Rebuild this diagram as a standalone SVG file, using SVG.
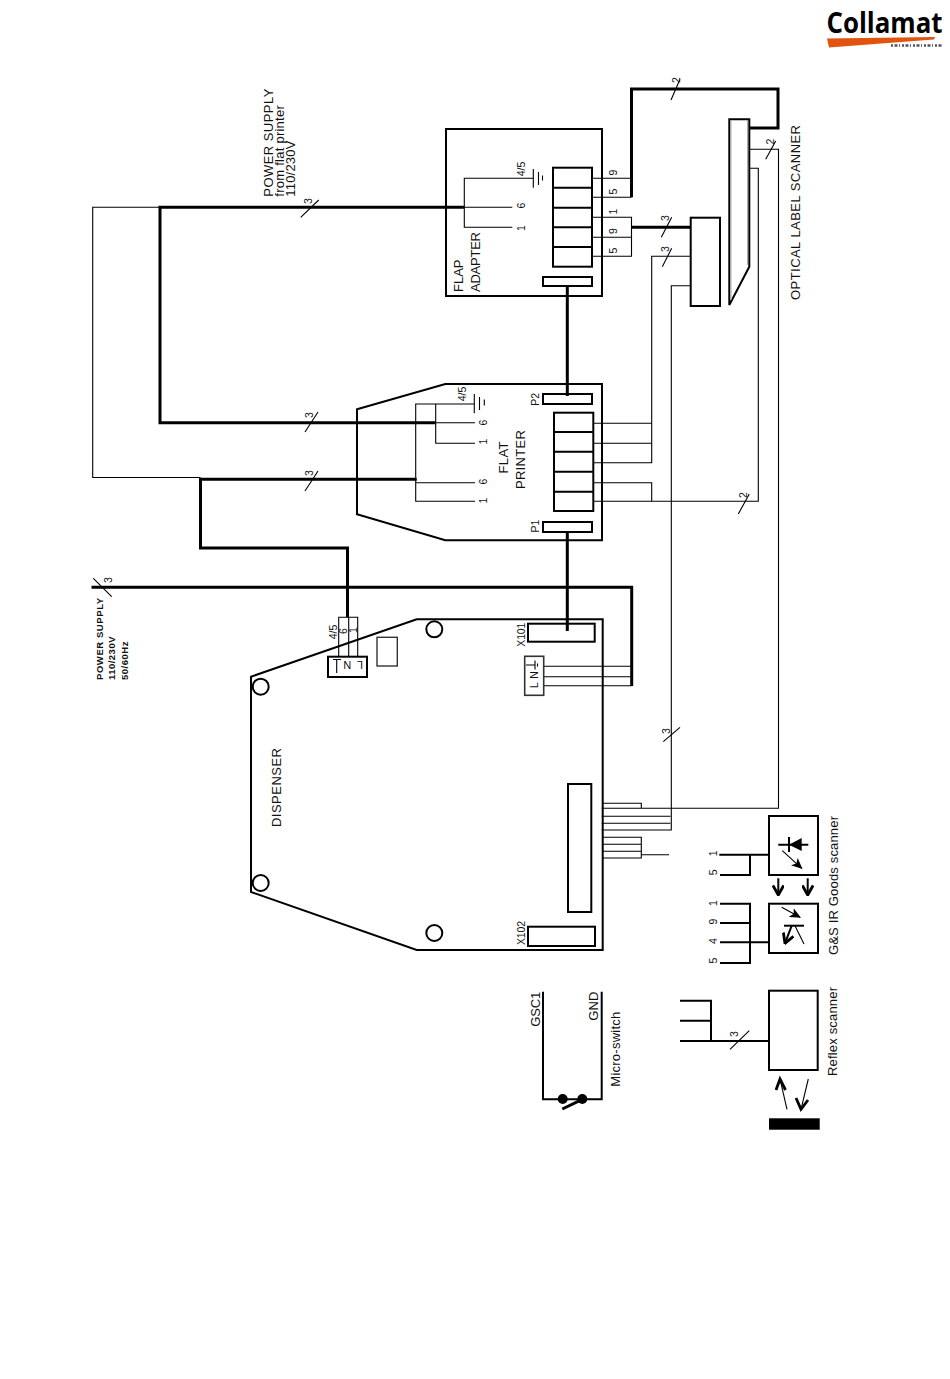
<svg xmlns="http://www.w3.org/2000/svg" width="950" height="1379" viewBox="0 0 950 1379">
<style>
text{font-family:"Liberation Sans",Arial,sans-serif;fill:#111}
.box{fill:none;stroke:#000;stroke-width:2}
.thin{fill:none;stroke:#000;stroke-width:1.1}
.thick{fill:none;stroke:#000;stroke-width:3}
.med{fill:none;stroke:#000;stroke-width:2}
.lbl{font-size:13px}
.num{font-size:10.5px;text-anchor:middle}
.bold{font-size:9.5px;font-weight:bold}
</style>
<defs>
<marker id="open" viewBox="0 0 10 10" refX="9" refY="5" markerWidth="12" markerHeight="12" markerUnits="userSpaceOnUse" orient="auto"><path d="M1 0.5L9 5L1 9.5" fill="none" stroke="#000" stroke-width="2.4"/></marker>
<marker id="solid" viewBox="0 0 10 10" refX="9" refY="5" markerWidth="11" markerHeight="11" markerUnits="userSpaceOnUse" orient="auto"><path d="M0 0.5L10 5L0 9.5L2.5 5Z" fill="#000"/></marker>
</defs>
<rect width="950" height="1379" fill="#fff"/>

<g id="logo">
<polygon points="827,38.5 935,37 934,39.5 829,47.5" fill="#e0540f"/>
<text x="826.5" y="32.5" font-size="28" font-weight="bold" style="font-family:'Open Sans','Liberation Sans',sans-serif;fill:#000" textLength="116" lengthAdjust="spacingAndGlyphs">Collamat</text>
<line x1="891" y1="45.5" x2="943" y2="45.5" stroke="#555" stroke-width="2.5" stroke-dasharray="2 1.5 3 1.5 1 2"/>
</g>

<g id="connectors">
<path class="thick" d="M631.5 197.3V89H778V128H749.3"/>
<path class="thick" d="M631.5 227.3H690.7"/>
<path class="thick" d="M567.3 286V396"/>
<path class="thick" d="M567.3 532V631"/>
<path class="thick" d="M464.3 207.3H160V422.7H435.7"/>
<path class="thick" d="M416.7 479.3H200.5V548H347.5V617.3"/>
<path class="thick" d="M91.5 587.3H631.7V686"/>
<path class="thin" d="M160 207.3H92.7V477.5H200.5"/>
<path class="thin" d="M592 178.3H631.5M592 197.3H631.5"/>
<path class="thin" d="M592 217.3H631.5V256.3H592M592 237.3H631.5"/>
<path class="thin" d="M749.3 149.3H778.5V808.3H601.7"/>
<path class="thin" d="M749.3 168.3H758.3V501.3H593"/>
<path class="thin" d="M690.7 256.3H651.7V462.7H593M593 423.3H651.7M593 443.3H651.7"/>
<path class="thin" d="M593 482.7H651.7V501.3"/>
<path class="thin" d="M690.7 285.7H671.3V830H601.7"/>
<path class="thin" d="M601.7 816.3H670.5M601.7 823.3H670.5"/>
<path class="thin" d="M602 803.3H641.3V808.3"/>
<path class="thin" d="M602 837.3H641.3V858H602M602 844.3H641.3M602 851.3H641.3M641.3 854.7H669"/>
<path class="thin" d="M543.7 666.3H631.7M543.7 676.7H631.7M543.7 685.7H631.7"/>
<path class="thin" d="M338.7 656.7V617.3H357.7V656.7M348.7 617.3V656.7"/>
<path class="thin" d="M671 100L680 79.3M765.7 159.3L775.7 141M661.3 237.3L671.7 217.3M662.3 266.7L671.7 248.3M738.3 514L749.3 494M300.7 217.3L318.7 200M305 432L318 412M305 491L318 471M93.3 578.3L111.7 596.7M663.3 741.7L680 727.3M730 1049.3L749.3 1030.7"/>
<path class="med" d="M719.3 854.7H769M720 875H750V854.7"/>
<path class="med" d="M720 903.7H750V963H720M720 923H750M720 942.3H769"/>
<path class="med" d="M680 1000.7H711V1041M680 1020.7H711M680 1041H769"/>
<path class="med" d="M778.3 878.3V895" marker-end="url(#open)"/>
<path class="med" d="M807.7 878.3V895" marker-end="url(#open)"/>
<text class="num" transform="translate(679.5,80) rotate(-90)">2</text>
<text class="num" transform="translate(773.5,141.5) rotate(-90)">2</text>
<text class="num" transform="translate(668.5,218) rotate(-90)">3</text>
<text class="num" transform="translate(668.5,249) rotate(-90)">3</text>
<text class="num" transform="translate(746.5,495) rotate(-90)">2</text>
<text class="num" transform="translate(311.5,201) rotate(-90)">3</text>
<text class="num" transform="translate(313,415) rotate(-90)">3</text>
<text class="num" transform="translate(313,473) rotate(-90)">3</text>
<text class="num" transform="translate(112,580) rotate(-90)">3</text>
<text class="num" transform="translate(670,731) rotate(-90)">3</text>
<text class="num" transform="translate(738,1034) rotate(-90)">3</text>
</g>

<g id="flap-adapter">
<rect class="box" x="446" y="129" width="156" height="167"/>
<rect class="box" x="553" y="167.7" width="39" height="99"/>
<path class="box" d="M553 187.7H592M553 207.7H592M553 227.3H592M553 247H592"/>
<rect class="box" x="543" y="277" width="49" height="9"/>
<path class="thin" d="M533.3 178.3H464.3V227.3H512.3M464.3 207.3H512.3"/>
<path class="thin" d="M533.3 169V187.7M538.5 172V185M542.5 175.5V180.5"/>
<text class="lbl" transform="translate(463,292) rotate(-90)">FLAP</text>
<text class="lbl" transform="translate(479.5,292) rotate(-90)" textLength="60">ADAPTER</text>
<text class="num" transform="translate(524.5,169) rotate(-90)">4/5</text>
<text class="num" transform="translate(525,205.7) rotate(-90)">6</text>
<text class="num" transform="translate(525,228) rotate(-90)">1</text>
<text class="num" transform="translate(616.5,172.7) rotate(-90)">9</text>
<text class="num" transform="translate(616.5,191.7) rotate(-90)">5</text>
<text class="num" transform="translate(616.5,211.7) rotate(-90)">1</text>
<text class="num" transform="translate(616.5,231) rotate(-90)">9</text>
<text class="num" transform="translate(616.5,250.7) rotate(-90)">5</text>
</g>

<g id="label-power-flat">
<text class="lbl" transform="translate(272.7,196.7) rotate(-90)" textLength="108">POWER SUPPLY</text>
<text class="lbl" transform="translate(284,196.7) rotate(-90)" textLength="91.5">from flat printer</text>
<text class="lbl" transform="translate(295,196.7) rotate(-90)" textLength="56">110/230V</text>
</g>

<g id="interface-box">
<rect class="box" x="690.7" y="217.7" width="29.3" height="88.3"/>
</g>

<g id="optical-label-scanner">
<polygon points="729.3,119.3 749.3,119.3 749.3,266.7 729.3,305" fill="none" stroke="#000" stroke-width="2"/>
<path d="M731 120V300M747.5 120V265" fill="none" stroke="#aaa" stroke-width="1"/>
<text class="lbl" transform="translate(800,300) rotate(-90)" textLength="175">OPTICAL LABEL SCANNER</text>
</g>

<g id="flat-printer">
<polygon class="box" points="357,409.3 445.3,384 602,384 602,540.3 445.3,540.3 357,514.3"/>
<rect class="box" x="554" y="412.7" width="39.3" height="98.3"/>
<path class="box" d="M554 432H593.3M554 451.7H593.3M554 471.7H593.3M554 491.7H593.3"/>
<rect class="box" x="543" y="394" width="49" height="10"/>
<rect class="box" x="543" y="522" width="49" height="10"/>
<path class="thin" d="M474.3 404H415.7V501.3H475M435.7 404V443.3H475M435.7 422.7H475M416 482.7H475"/>
<path class="thin" d="M474.3 394V413.3M479.5 397V410M484.3 399.5V405.5"/>
<text class="lbl" text-anchor="middle" transform="translate(508,457.5) rotate(-90)" textLength="32">FLAT</text>
<text class="lbl" text-anchor="middle" transform="translate(524.5,459.6) rotate(-90)" textLength="59">PRINTER</text>
<text class="num" transform="translate(466,394) rotate(-90)">4/5</text>
<text class="num" transform="translate(486.7,422.7) rotate(-90)">6</text>
<text class="num" transform="translate(486.7,441.7) rotate(-90)">1</text>
<text class="num" transform="translate(486.7,481.7) rotate(-90)">6</text>
<text class="num" transform="translate(486.7,500.7) rotate(-90)">1</text>
<text class="num" transform="translate(539,399.3) rotate(-90)">P2</text>
<text class="num" transform="translate(539,526) rotate(-90)">P1</text>
</g>

<g id="power-supply">
<text class="bold" transform="translate(102.7,680) rotate(-90)" textLength="82">POWER SUPPLY</text>
<text class="bold" transform="translate(115.3,680) rotate(-90)" textLength="43.5">110/230V</text>
<text class="bold" transform="translate(127.7,680) rotate(-90)" textLength="38.5">50/60Hz</text>
</g>

<g id="dispenser">
<polygon class="box" points="251,676.7 416.7,619.3 602.7,619.3 602.7,950 416.7,950 251,892"/>
<circle class="box" cx="434.3" cy="629.3" r="8"/>
<circle class="box" cx="260.7" cy="686.7" r="8"/>
<circle class="box" cx="260.7" cy="883" r="8"/>
<circle class="box" cx="434.3" cy="933" r="8"/>
<rect class="box" x="528" y="623.7" width="66.7" height="18"/>
<rect class="box" x="528" y="926.7" width="67" height="19.3"/>
<rect class="box" x="568" y="784" width="23.3" height="128"/>
<rect x="377" y="637.3" width="20.3" height="28.7" fill="none" stroke="#333" stroke-width="1.4"/>
<rect class="box" x="328" y="656.7" width="39" height="20.3" fill="#fff"/>
<rect x="524.7" y="656.3" width="19" height="39" fill="#fff" stroke="#333" stroke-width="1.6"/>
<text class="lbl" transform="translate(281,827) rotate(-90)" textLength="79">DISPENSER</text>
<text class="num" style="text-anchor:start" transform="translate(524.5,646.7) rotate(-90)" textLength="24">X101</text>
<text class="num" style="text-anchor:start" transform="translate(524.5,945) rotate(-90)" textLength="24">X102</text>
<text class="num" transform="translate(336.7,632) rotate(-90)">4/5</text>
<text class="num" transform="translate(347,631) rotate(-90)">6</text>
<text class="num" transform="translate(356.7,630) rotate(-90)">1</text>
<text class="num" style="font-size:11px" transform="translate(360,661) rotate(180)">L</text>
<text class="num" style="font-size:11px" transform="translate(347.3,661) rotate(180)">N</text>
<path class="thin" d="M333 659.5H341M336.7 659.5V673"/>
<text class="num" transform="translate(537.5,685) rotate(-90)">L</text>
<text class="num" transform="translate(537.5,675) rotate(-90)">N</text>
<path class="thin" d="M526 665H535M535 660.5V669.5M537.5 663.5V666.5"/>
</g>

<g id="goods-emitter">
<rect class="box" x="769" y="816" width="49" height="59"/>
<path class="med" d="M778.3 844.7H808.3M789 837V852"/>
<polygon points="801.7,838 801.7,851 789,844.7" fill="#000"/>
<path class="thin" d="M782.3 850.7L801.7 868.3" marker-end="url(#solid)"/>
<text class="num" transform="translate(716.7,853.3) rotate(-90)">1</text>
<text class="num" transform="translate(716.7,872.3) rotate(-90)">5</text>
</g>

<g id="goods-receiver">
<rect class="box" x="769" y="903.7" width="49" height="49.3"/>
<path class="thin" d="M781.7 907.3L800 917.3" marker-end="url(#solid)"/>
<path class="med" d="M784 925.7H804"/>
<path class="med" d="M791.7 925.7L785 943.3" marker-end="url(#open)"/>
<path class="thin" d="M795 925.7L804 944"/>
<text class="num" transform="translate(716.7,903) rotate(-90)">1</text>
<text class="num" transform="translate(716.7,921.7) rotate(-90)">9</text>
<text class="num" transform="translate(716.7,941) rotate(-90)">4</text>
<text class="num" transform="translate(716.7,960.7) rotate(-90)">5</text>
<text class="lbl" transform="translate(838,955) rotate(-90)" textLength="139">G&amp;S IR Goods scanner</text>
</g>

<g id="micro-switch">
<path class="med" d="M543 991.7V1099.3H601.7V991.7"/>
<circle cx="562.7" cy="1099" r="5" fill="#000"/>
<circle cx="582.3" cy="1099" r="5" fill="#000"/>
<path class="thick" d="M562.3 1109L582.3 1099.3"/>
<text class="lbl" transform="translate(540,1026.7) rotate(-90)" textLength="35">GSC1</text>
<text class="lbl" transform="translate(597.7,1020.7) rotate(-90)" textLength="29">GND</text>
<text class="lbl" transform="translate(620,1086.7) rotate(-90)" textLength="75">Micro-switch</text>
</g>

<g id="reflex-scanner">
<rect class="box" x="769" y="990.7" width="48.7" height="79.3"/>
<rect x="769" y="1118.3" width="50.7" height="11.4" fill="#000"/>
<path class="thin" d="M787 1109.3L780 1079"/>
<path d="M785.5 1090L780 1079L776 1090" fill="none" stroke="#000" stroke-width="2.8"/>
<path class="thin" d="M808.3 1079L801 1109.3"/>
<path d="M796 1098L801 1109.3L808 1100" fill="none" stroke="#000" stroke-width="2.8"/>
<text class="lbl" transform="translate(836.7,1076) rotate(-90)" textLength="89">Reflex scanner</text>
</g>
</svg>
